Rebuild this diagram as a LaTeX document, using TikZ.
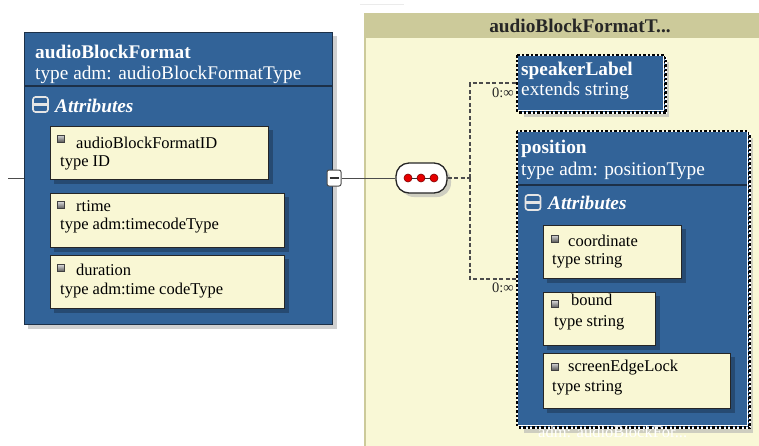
\documentclass[tikz,border=0pt]{standalone}
\usepackage{fontspec}
\setmainfont{Liberation Serif}
\usetikzlibrary{calc}
\definecolor{adblue}{RGB}{50,99,152}
\definecolor{adborder}{RGB}{28,48,72}
\definecolor{attrfill}{RGB}{249,247,212}
\definecolor{contfill}{RGB}{249,248,214}
\definecolor{conthead}{RGB}{204,202,154}
\definecolor{dotred}{RGB}{230,0,0}
\tikzset{
  hdrfont/.style={font=\fontsize{19.3}{21}\selectfont},
  attrfont/.style={font=\fontsize{16.5}{18}\selectfont},
  txt/.style={inner sep=0pt, anchor=base west, text=white},
  blockbox/.style={draw=adborder, fill=adblue, line width=1pt, inner sep=0pt, anchor=north west},
  attrbox/.style={draw=black!85, fill=attrfill, line width=1.3pt, inner sep=0pt, anchor=north west},
  attrshadow/.style={fill=adblue!65!black, opacity=0.7},
  greyshadow/.style={fill=black!30, opacity=0.6},
  icon/.style={draw=black!75, top color=black!15, bottom color=black!65, minimum size=7pt, inner sep=0pt, line width=0.6pt},
  minusicon/.style={draw=black!10, line width=1.6pt, rounded corners=2.5pt, minimum width=15pt, minimum height=15pt, inner sep=0pt},
  dashconn/.style={draw=black!70, line width=1.6pt, dash pattern=on 4pt off 2.5pt},
  dotborder/.style={draw=black, line width=1.4pt, dash pattern=on 2.5pt off 2pt},
  whiteborder/.style={draw=white, line width=1.4pt},
  conn/.style={draw=black!70, line width=1pt},
}
\begin{document}
\begin{tikzpicture}[x=1pt,y=-1pt]
\clip (0,0) rectangle (759,445);
\fill[white] (0,0) rectangle (759,445);
\draw[black!8, line width=1pt] (360,4) -- (404,4);

% ---------- right container ----------
\node[draw=conthead, fill=contfill, line width=1.5pt, inner sep=0pt, anchor=north west,
      minimum width=420pt, minimum height=460pt] (cont) at (364,13) {};
\fill[conthead] (364,13) rectangle (790,38);
\node[inner sep=0pt, font=\fontsize{19.3}{21}\selectfont\bfseries, text=black!85] (ctitle) at (580,26) {audioBlockFormatT...};

% ---------- left block ----------
\fill[greyshadow] (28,36) rectangle (337,329);
\node[blockbox, minimum width=308pt, minimum height=292pt] (abf) at (24,32) {};
\draw[adborder, line width=1.3pt] ($(abf.north west)+(0,54)$) -- ($(abf.north east)+(0,54)$);
\node[txt, font=\fontsize{19.3}{21}\selectfont\bfseries] (abft) at (35,58) {audioBlockFormat};
\node[txt, hdrfont] (abfs) at (35,79) {type adm: audioBlockFormatType};
\node[minusicon] (abfm) at (40.5,104.5) {};
\draw[black!10, line width=2.2pt] ($(abfm.west)+(1,0)$) -- ($(abfm.east)+(-1,0)$);
\node[txt, font=\fontsize{19.3}{21}\selectfont\bfseries\itshape] (abfa) at (55,112) {Attributes};

% attribute boxes left
\fill[attrshadow] (54,130) rectangle (273,184);
\node[attrbox, minimum width=218pt, minimum height=53pt] (a1) at (50,126) {};
\fill[attrshadow] (54,197) rectangle (289,252);
\node[attrbox, minimum width=234pt, minimum height=54pt] (a2) at (50,193) {};
\fill[attrshadow] (54,259) rectangle (289,313);
\node[attrbox, minimum width=234pt, minimum height=53pt] (a3) at (50,255) {};

\node[icon] (a1i) at (61,138.5) {};
\node[txt, attrfont, text=black] (a1n) at (76,148) {audioBlockFormatID};
\node[txt, attrfont, text=black] (a1t) at (60,166) {type ID};
\node[icon] (a2i) at (61,205) {};
\node[txt, attrfont, text=black] (a2n) at (76,211) {rtime};
\node[txt, attrfont, text=black] (a2t) at (60,229) {type adm:timecodeType};
\node[icon] (a3i) at (61,268) {};
\node[txt, attrfont, text=black] (a3n) at (76,275) {duration};
\node[txt, attrfont, text=black] (a3t) at (60,294) {type adm:time codeType};

% left incoming line
\coordinate (lstart) at (8,178);
\draw[conn] (lstart) -- (lstart -| abf.west);

% toggle
\node[draw=black!70, fill=white, line width=1pt, rounded corners=2pt, minimum width=14pt, minimum height=16pt, inner sep=0pt] (tog) at (334,178) {};
\draw[black!80, line width=1.8pt] ($(tog.center)+(-4.5,0)$) -- ($(tog.center)+(4.5,0)$);

% sequence compositor
\fill[black!30, opacity=0.6, rounded corners=14pt] (400,167) rectangle (451,197);
\node[draw=black!85, fill=white, line width=1.3pt, rounded corners=13pt, minimum width=51pt, minimum height=30pt, inner sep=0pt] (seq) at (421.5,178) {};
\draw[conn] (tog.east) -- (seq.west);
\draw[black!80, line width=1pt] (408,178) -- (434,178);
\foreach \xx/\nm in {408/d1,421/d2,434/d3}{
  \node[circle, fill=dotred, draw=red!50!black, line width=0.6pt, minimum size=8pt, inner sep=0pt] (\nm) at (\xx,178) {};
}

% branch
\coordinate (br) at (470,178);
\draw[dashconn] (seq.east) -- (br);

% ---------- speakerLabel ----------
\fill[greyshadow] (524,62) rectangle (669,117);
\draw[whiteborder, fill=adblue] (520,58) rectangle (666,113);
\draw[dotborder] (520,58) rectangle (666,113);
\node[blockbox, draw=white, line width=1.4pt, minimum width=146pt, minimum height=55pt] (spk) at (517,55) {};
\draw[dotborder] (spk.north west) rectangle (spk.south east);
\node[txt, font=\fontsize{19.3}{21}\selectfont\bfseries] (spkt) at (521,75) {speakerLabel};
\node[txt, hdrfont] (spks) at (521,95) {extends string};

% ---------- position ----------
\fill[greyshadow] (524,138) rectangle (753,433);
\draw[whiteborder, fill=adblue] (520,134) rectangle (750,428);
\draw[dotborder] (520,134) rectangle (750,428);
\node[blockbox, draw=white, line width=1.4pt, minimum width=230pt, minimum height=294pt] (pos) at (517,131) {};
\draw[dotborder] (pos.north west) rectangle (pos.south east);
\draw[adborder, line width=1.5pt] ($(pos.north west)+(1,54)$) -- ($(pos.north east)+(-1,54)$);
\node[txt, font=\fontsize{19.3}{21}\selectfont\bfseries] (post) at (521,153) {position};
\node[txt, hdrfont] (poss) at (521,175) {type adm: positionType};
\node[minusicon] (posm) at (533,202.5) {};
\draw[black!10, line width=2.2pt] ($(posm.west)+(1,0)$) -- ($(posm.east)+(-1,0)$);
\node[txt, font=\fontsize{19.3}{21}\selectfont\bfseries\itshape] (posa) at (548,209) {Attributes};

\fill[attrshadow] (547,229) rectangle (686,283);
\node[attrbox, minimum width=138pt, minimum height=53pt] (b1) at (543,225) {};
\fill[attrshadow] (547,296) rectangle (660,350);
\node[attrbox, minimum width=112pt, minimum height=53pt] (b2) at (543,292) {};
\fill[attrshadow] (547,357) rectangle (735,413);
\node[attrbox, minimum width=187pt, minimum height=55pt] (b3) at (543,353) {};

\node[icon] (b1i) at (554.5,238.5) {};
\node[txt, attrfont, text=black] (b1n) at (568,246) {coordinate};
\node[txt, attrfont, text=black] (b1t) at (552,264) {type string};
\node[icon] (b2i) at (554.5,304) {};
\node[txt, attrfont, text=black] (b2n) at (571,305) {bound};
\node[txt, attrfont, text=black] (b2t) at (554,326) {type string};
\node[icon] (b3i) at (554.5,366.5) {};
\node[txt, attrfont, text=black] (b3n) at (568,371) {screenEdgeLock};
\node[txt, attrfont, text=black] (b3t) at (552,391) {type string};

\node[txt, attrfont] (posb) at (538,437) {adm: audioBlockFor...};

% branch connectors
\draw[dashconn] (br) |- (spk.west);
\draw[dashconn] (br) |- (pos.west);
\node[inner sep=0pt, anchor=base east, font=\fontsize{14.5}{16}\selectfont, text=black!85] (l1) at (514,97) {0:∞};
\node[inner sep=0pt, anchor=base east, font=\fontsize{14.5}{16}\selectfont, text=black!85] (l2) at (514,292) {0:∞};
\end{tikzpicture}
\end{document}
